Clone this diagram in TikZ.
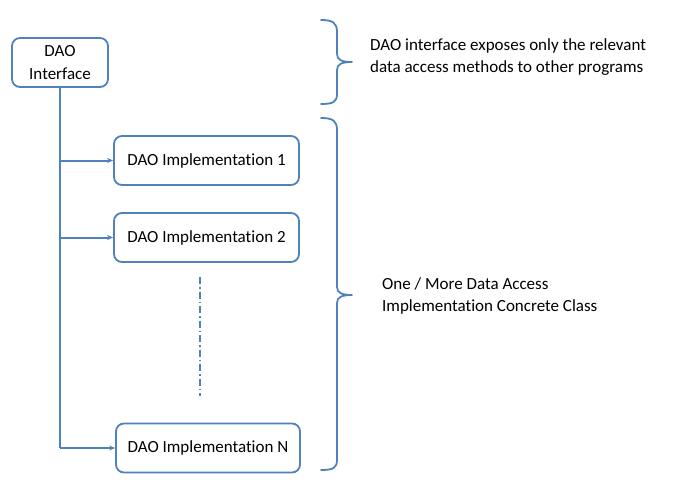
\documentclass[tikz,border=0pt]{standalone}
\usepackage{fontspec}
\setmainfont{Carlito}[Ligatures=NoCommon]
\usetikzlibrary{arrows.meta}
\definecolor{daoblue}{HTML}{4F81BD}
\tikzset{
  daobox/.style={draw=daoblue, line width=1.8pt, rounded corners=8pt, minimum height=49pt, align=center, inner sep=0pt, fill=white},
  link/.style={draw=daoblue, line width=2pt},
  brace/.style={draw=daoblue, line width=1.8pt, line cap=round}
}
\begin{document}
\begin{tikzpicture}[x=1pt, y=-1pt, font=\fontsize{17}{22.5}\selectfont, line join=round, >={Stealth[length=6pt,width=5pt]}]
			\useasboundingbox (0,0) rectangle (699,498);
			% boxes
			\node[daobox, minimum width=96pt] (intf) at (60,62.5) {DAO\\Interface};
			\node[daobox, minimum width=185pt] (implA) at (206.5,160.5) {DAO Implementation 1};
			\node[daobox, minimum width=185pt] (implB) at (206.5,237.5) {DAO Implementation 2};
			\node[daobox, minimum width=184pt] (implN) at (208,448) {DAO Implementation N};
			% connectors
			\draw[link] (intf.south) -- (intf.south |- implN.west);
			\draw[link,->] (intf.south |- implA.west) -- (implA.west);
			\draw[link,->] (intf.south |- implB.west) -- (implB.west);
			\draw[link,->] (intf.south |- implN.west) -- (implN.west);
			\draw[link, dash pattern=on 7pt off 3pt on 1.5pt off 3pt] (200,277) -- (200,396);
			% braces
			\draw[brace] (321,20) .. controls (333,20) and (337,23) .. (337,32)
			-- (337,54) .. controls (337,60) and (342,62) .. (352,62)
			.. controls (342,62) and (337,64) .. (337,70)
			-- (337,94) .. controls (337,102) and (333,104) .. (321,104);
			\draw[brace] (321,118) .. controls (333,118) and (337,121) .. (337,130)
			-- (337,287) .. controls (337,293) and (342,295) .. (352,295)
			.. controls (342,295) and (337,297) .. (337,303)
			-- (337,460) .. controls (337,468) and (333,470) .. (321,470);
			% notes
			\node[anchor=west, align=left, inner sep=0pt] (noteA) at (370,57) {DAO interface exposes only the relevant\\data access methods to other programs};
			\node[anchor=west, align=left, inner sep=0pt] (noteB) at (382,296) {One / More Data Access\\Implementation Concrete Class};
		\end{tikzpicture}
\end{document}
